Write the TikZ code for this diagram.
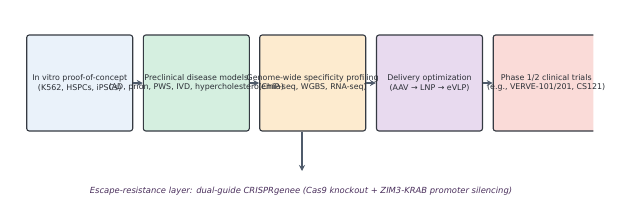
\documentclass[tikz,border=0pt]{standalone}
\usepackage{fontspec}
\setmainfont{DejaVu Sans}
\usetikzlibrary{arrows.meta, positioning}
\definecolor{pbblue}{HTML}{EAF2FA}
\definecolor{pbgreen}{HTML}{D5EFE0}
\definecolor{pborange}{HTML}{FDEBCF}
\definecolor{pbpurple}{HTML}{E8DAEF}
\definecolor{pbpink}{HTML}{FADBD8}
\definecolor{pbedge}{HTML}{353A42}
\definecolor{pbarrow}{HTML}{4F5B6B}
\definecolor{pbtext}{HTML}{2B2F36}
\definecolor{pbnote}{HTML}{4A2F5C}

\begin{document}
\begin{tikzpicture}[
  x=1pt, y=-1pt,
  every node/.style={font=\fontsize{7.9}{9.2}\selectfont},
  stage/.style={rectangle, rounded corners=2.5pt, draw=pbedge, line width=1.1pt, minimum width=106pt, minimum height=96pt, inner sep=0pt},
  stagetext/.style={align=center, text=pbtext, inner sep=0pt},
  flow/.style={-{Stealth[length=6pt, width=6pt]}, draw=pbarrow, line width=1.2pt},
]
\useasboundingbox[fill=white] (0,0) rectangle (624,209);

% Pipeline stages
\node[stage, fill=pbblue] (vitro) at (79.7, 83) {};
\node[stage, fill=pbgreen] (preclin) at (196.3, 83) {};
\node[stage, fill=pborange] (profiling) at (312.7, 83) {};
\node[stage, fill=pbpurple] (delivery) at (429.5, 83) {};
\begin{scope}
  \clip (0,0) rectangle (593.3,209);
  \node[stage, fill=pbpink] (trials) at (546.2, 83) {};
\end{scope}

% Stage labels (drawn on top)
\node[stagetext] (vitrotxt) at (vitro.center) {In vitro proof-of-concept\\(K562, HSPCs, iPSCs)};
\node[stagetext] (preclintxt) at (preclin.center) {Preclinical disease models\\(AD, prion, PWS, IVD, hypercholesterolemia)};
\node[stagetext] (profilingtxt) at (profiling.center) {Genome-wide specificity profiling\\(ChIP-seq, WGBS, RNA-seq)};
\node[stagetext] (deliverytxt) at (delivery.center) {Delivery optimization\\(AAV → LNP → eVLP)};
\node[stagetext] (trialstxt) at (trials.center) {Phase 1/2 clinical trials\\(e.g., VERVE-101/201, CS121)};

% Flow between stages
\draw[flow] (vitro.east) -- (preclin.west);
\draw[flow] (preclin.east) -- (profiling.west);
\draw[flow] (profiling.east) -- (delivery.west);
\draw[flow] (delivery.east) -- (trials.west);

% Escape-resistance branch
\node[text=pbnote, font=\fontsize{8.4}{9.6}\selectfont\itshape, inner sep=0pt] (escape) at (301, 191.5) {Escape-resistance layer: dual-guide CRISPRgenee (Cas9 knockout + ZIM3-KRAB promoter silencing)};
\coordinate (escarrow) at (302, 171);
\draw[flow] (profiling.south -| escarrow) -- (escarrow);

\end{tikzpicture}
\end{document}
